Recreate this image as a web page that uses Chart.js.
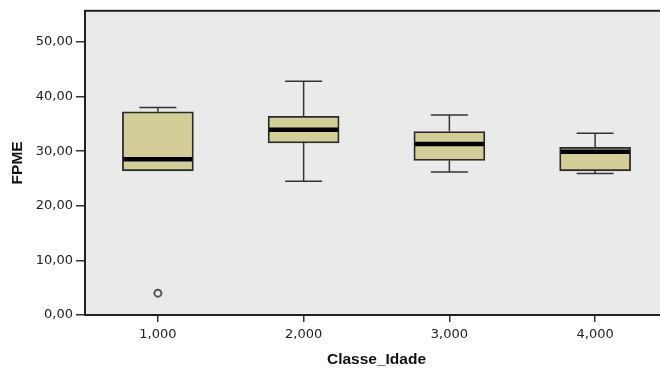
<!DOCTYPE html>
<html>
<head>
<meta charset="utf-8">
<script src="https://cdn.jsdelivr.net/npm/chart.js@4.4.1/dist/chart.umd.min.js"></script>
<style>
  html, body { margin: 0; padding: 0; background: #fff; overflow: hidden; }
  /* o grafico original e cortado a direita */
  #wrap { width: 660px; height: 370px; overflow: hidden; }
  #inner { width: 674px; height: 370px; position: relative; }
</style>
</head>
<body>
<div id="wrap"><div id="inner"><canvas id="chart"></canvas></div></div>
<script>
// Classe_Idade groups
const categories = [1, 2, 3, 4]
const xTickLabels = ["1,000", "2,000", "3,000", "4,000"]

// FPME box plot values per group
const whiskerLow = [26.4, 24.5, 26.2, 25.9]
const q1 = [26.4, 31.5, 28.3, 26.4]
const median = [28.5, 33.9, 31.3, 29.9]
const q3 = [37.2, 36.4, 33.6, 30.7]
const whiskerHigh = [38.0, 42.8, 36.6, 33.3]
const outliers = [{ x: 1, y: 4.0 }]

const yTicks = [0, 10, 20, 30, 40, 50]
const yTickLabels = ["0,00", "10,00", "20,00", "30,00", "40,00", "50,00"]

const BOX_W = 71
const CAP_W = 37
const INK = "#2a2a2a"
const TICK_FONT = { family: "DejaVu Sans", size: 13 }
const TITLE_FONT = { family: "Liberation Sans, Arial", size: 15.5, weight: "bold" }

// fundo cinza e moldura da area do grafico
const plotFrame = {
  id: "plotFrame",
  beforeDraw(chart) {
    const { ctx, chartArea: a } = chart
    ctx.save()
    ctx.fillStyle = "#EAEAEA"
    ctx.fillRect(a.left, a.top, a.right - a.left, a.bottom - a.top)
    ctx.restore()
  },
  afterDraw(chart) {
    const { ctx, chartArea: a } = chart
    ctx.save()
    ctx.strokeStyle = "#222"
    ctx.lineWidth = 2
    ctx.strokeRect(a.left, a.top, a.right - a.left, a.bottom - a.top)
    ctx.restore()
  },
}

// bigodes e medianas
const whiskers = {
  id: "whiskers",
  beforeDatasetsDraw(chart) {
    const { ctx, scales } = chart
    const x = scales.x
    const y = scales.y
    ctx.save()
    ctx.strokeStyle = "#333"
    ctx.lineWidth = 1.5
    categories.forEach((c, i) => {
      const xp = x.getPixelForValue(c)
      const segs = [
        [whiskerLow[i], q1[i]],
        [q3[i], whiskerHigh[i]],
      ]
      segs.forEach(([a, b]) => {
        if (a === b) return
        ctx.beginPath()
        ctx.moveTo(xp, y.getPixelForValue(a))
        ctx.lineTo(xp, y.getPixelForValue(b))
        ctx.stroke()
      })
      ;[whiskerLow[i], whiskerHigh[i]].forEach((v) => {
        if (v === q1[i] || v === q3[i]) return
        const yp = y.getPixelForValue(v)
        ctx.beginPath()
        ctx.moveTo(xp - CAP_W / 2, yp)
        ctx.lineTo(xp + CAP_W / 2, yp)
        ctx.stroke()
      })
    })
    ctx.restore()
  },
  afterDatasetsDraw(chart) {
    const { ctx, scales } = chart
    ctx.save()
    ctx.strokeStyle = "#000"
    ctx.lineWidth = 4.5
    categories.forEach((c, i) => {
      const xp = scales.x.getPixelForValue(c)
      const yp = scales.y.getPixelForValue(median[i])
      ctx.beginPath()
      ctx.moveTo(xp - BOX_W / 2 + 1, yp)
      ctx.lineTo(xp + BOX_W / 2 - 1, yp)
      ctx.stroke()
    })
    ctx.restore()
  },
}

new Chart(document.getElementById("chart"), {
  type: "bar",
  data: {
    datasets: [
      {
        type: "bar",
        data: categories.map((c, i) => ({ x: c, y: [q1[i], q3[i]] })),
        backgroundColor: "#D3CE98",
        borderColor: INK,
        borderWidth: 1.8,
        borderSkipped: false,
        barThickness: BOX_W,
      },
      {
        type: "scatter",
        data: outliers,
        pointRadius: 3.5,
        pointBorderWidth: 2,
        pointBackgroundColor: "#EAEAEA",
        pointBorderColor: "#555",
      },
    ],
  },
  options: {
    responsive: true,
    maintainAspectRatio: false,
    animation: false,
    layout: { padding: { top: 10, left: 0, right: 0, bottom: 0 } },
    plugins: {
      legend: { display: false },
      tooltip: { enabled: false },
    },
    scales: {
      x: {
        type: "linear",
        offset: false,
        min: 0.5,
        max: 4.5,
        afterBuildTicks: (axis) => {
          axis.ticks = categories.map((v) => ({ value: v }))
        },
        afterFit: (scale) => {
          scale.height = 55
        },
        grid: { offset: false, drawOnChartArea: false, tickLength: 7, color: "#333", lineWidth: 1.5 },
        border: { display: true, color: "#222", width: 2 },
        ticks: {
          color: "#222",
          padding: 5,
          font: TICK_FONT,
          callback: (v) => xTickLabels[categories.indexOf(v)],
        },
        title: {
          display: true,
          text: "Classe_Idade",
          color: "#111",
          padding: { top: 6, bottom: 1 },
          font: TITLE_FONT,
        },
      },
      y: {
        min: 0,
        max: 55.7,
        afterBuildTicks: (axis) => {
          axis.ticks = yTicks.map((v) => ({ value: v }))
        },
        afterFit: (scale) => {
          scale.width = 85
        },
        grid: { drawOnChartArea: false, tickLength: 9, color: "#333", lineWidth: 1.5 },
        border: { display: true, color: "#222", width: 2 },
        ticks: {
          color: "#222",
          padding: 3,
          font: TICK_FONT,
          callback: (v) => yTickLabels[yTicks.indexOf(v)],
        },
        title: {
          display: true,
          text: "FPME",
          color: "#111",
          padding: { top: 8, bottom: 4 },
          font: TITLE_FONT,
        },
      },
    },
  },
  plugins: [plotFrame, whiskers],
})
</script>
</body>
</html>
